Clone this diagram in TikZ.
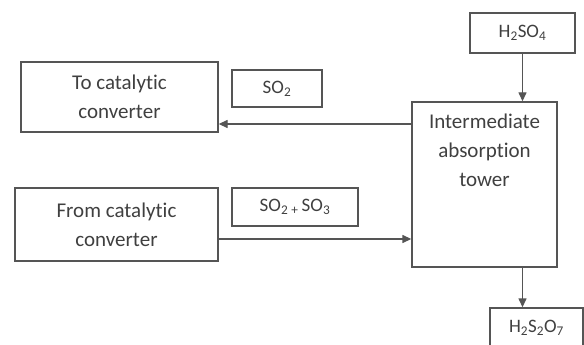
\documentclass[tikz,border=0pt]{standalone}
\usepackage{fontspec}
\setmainfont[Ligatures=NoCommon]{Carlito}
\usetikzlibrary{arrows.meta,calc}
\definecolor{linegray}{HTML}{555555}
\definecolor{textgray}{HTML}{404040}
\tikzset{
  box/.style={draw=linegray, line width=1.4pt, rectangle, inner sep=0pt, text=textgray, align=center},
  arr/.style={draw=linegray, line width=1.4pt, -{Triangle[length=9pt,width=8pt]}},
  txt/.style={font=\fontsize{21}{29}\selectfont},
  chem/.style={font=\fontsize{19}{23}\selectfont}
}
\begin{document}
\begin{tikzpicture}[x=1pt,y=1pt]
\useasboundingbox[fill=white] (0,0) rectangle (584,-345);
\node[box, chem, minimum width=105pt, minimum height=40pt] (h2so4) at (522.5,-33) {H\textsubscript{2}SO\textsubscript{4}};
\node[box, txt, minimum width=197pt, minimum height=70pt] (to) at (119.5,-97) {To catalytic\\converter};
\node[box, chem, minimum width=90pt, minimum height=37pt] (so2) at (277,-88.5) {SO\textsubscript{2}};
\node[box, minimum width=145pt, minimum height=165pt] (tower) at (484.5,-184.5) {};
\node[txt, text=textgray, align=center, anchor=north] (towertext) at (484.5,-110) {Intermediate\\absorption\\tower};
\node[box, txt, minimum width=203pt, minimum height=73pt] (from) at (116.5,-224.5) {From catalytic\\converter};
\node[box, chem, minimum width=126pt, minimum height=38pt] (so2so3) at (295,-207) {SO\textsubscript{2}\,\textsubscript{+}\,SO\textsubscript{3}};
\node[box, minimum width=93pt, minimum height=44pt] (h2s2o7) at (536.5,-330) {};
\node[chem, text=textgray] (h2s2o7text) at (536.5,-328) {H\textsubscript{2}S\textsubscript{2}O\textsubscript{7}};
\draw[arr] (h2so4.south) -- (h2so4.south |- tower.north);
\draw[arr] (tower.west |- 0,-124) -- (to.east |- 0,-124);
\draw[arr] (from.east |- 0,-239) -- (tower.west |- 0,-239);
\draw[arr] (h2so4.south |- tower.south) -- (h2so4.south |- h2s2o7.north);
\end{tikzpicture}
\end{document}
